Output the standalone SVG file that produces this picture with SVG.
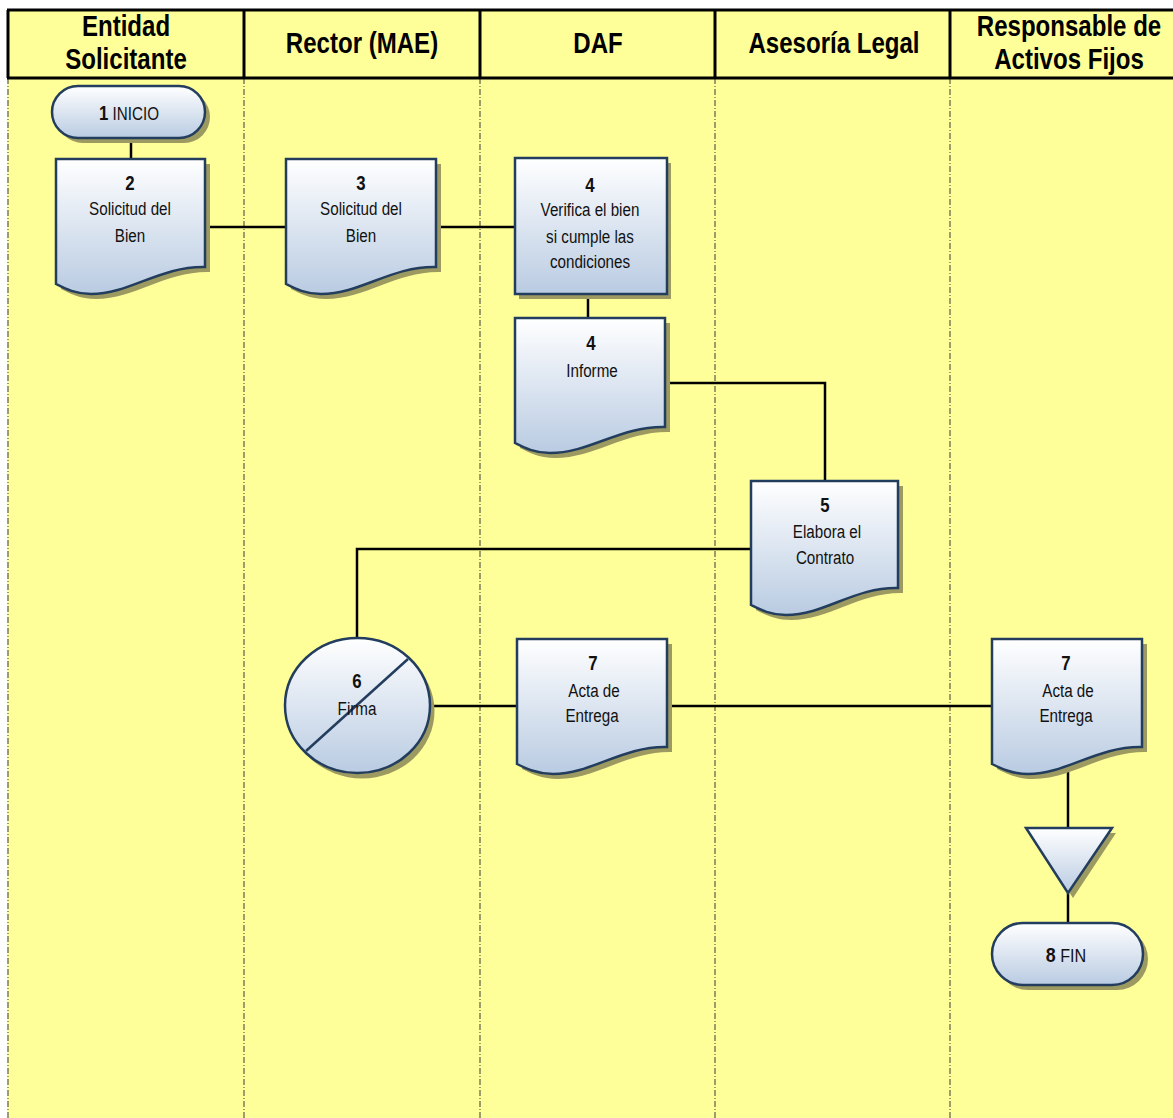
<svg xmlns="http://www.w3.org/2000/svg" width="1173" height="1118" viewBox="0 0 1173 1118">
  <defs>
    <linearGradient id="nodeFill" x1="0" y1="0" x2="0" y2="1">
      <stop offset="0" stop-color="#ffffff"/>
      <stop offset="1" stop-color="#b9cbe2"/>
    </linearGradient>
    <style>
      .lane { stroke: #3a3a3a; stroke-width: 1; stroke-dasharray: 6 2 1 2; fill: none; }
      .hdr { stroke: #000; stroke-width: 3; fill: none; }
      .hdrText { font-family: "Liberation Sans", Arial, sans-serif; font-weight: bold; font-size: 29px; fill: #000; text-anchor: middle; }
      .shape { fill: url(#nodeFill); stroke: #233d5e; stroke-width: 2.5; }
      .shadow { fill: #9c9a60; stroke: none; }
      .lbl { font-family: "Liberation Sans", Arial, sans-serif; font-size: 19px; fill: #111; text-anchor: middle; }
      .num { font-weight: bold; font-size: 21px; }
      .conn { stroke: #000; stroke-width: 2.5; fill: none; }
    </style>
  </defs>

  <!-- page background and swimlane area -->
  <rect x="0" y="0" width="1173" height="1118" fill="#ffffff"/>
  <rect x="7" y="10" width="1166" height="1108" fill="#ffff99"/>

  <!-- lane separators -->
  <g id="lanes">
    <line class="lane" x1="8" y1="78" x2="8" y2="1118"/>
    <line class="lane" x1="244" y1="78" x2="244" y2="1118"/>
    <line class="lane" x1="480" y1="78" x2="480" y2="1118"/>
    <line class="lane" x1="715" y1="78" x2="715" y2="1118"/>
    <line class="lane" x1="950" y1="78" x2="950" y2="1118"/>
  </g>

  <!-- header row (condensed bold captions) -->
  <g id="header">
    <line class="hdr" x1="7" y1="10" x2="1173" y2="10"/>
    <line class="hdr" x1="7" y1="78" x2="1173" y2="78"/>
    <line class="hdr" x1="8" y1="10" x2="8" y2="78"/>
    <line class="hdr" x1="244" y1="10" x2="244" y2="78"/>
    <line class="hdr" x1="480" y1="10" x2="480" y2="78"/>
    <line class="hdr" x1="715" y1="10" x2="715" y2="78"/>
    <line class="hdr" x1="950" y1="10" x2="950" y2="78"/>
    <text class="hdrText" transform="translate(126,36) scale(0.83,1)">Entidad</text>
    <text class="hdrText" transform="translate(126,69) scale(0.83,1)">Solicitante</text>
    <text class="hdrText" transform="translate(362,53) scale(0.83,1)">Rector (MAE)</text>
    <text class="hdrText" transform="translate(598,53) scale(0.83,1)">DAF</text>
    <text class="hdrText" transform="translate(834,53) scale(0.83,1)">Asesoría Legal</text>
    <text class="hdrText" transform="translate(1069,36) scale(0.83,1)">Responsable de</text>
    <text class="hdrText" transform="translate(1069,69) scale(0.83,1)">Activos Fijos</text>
  </g>

  <!-- connectors -->
  <g id="connectors">
    <line class="conn" x1="131" y1="138" x2="131" y2="159"/>
    <line class="conn" x1="206" y1="227" x2="286" y2="227"/>
    <line class="conn" x1="436" y1="227" x2="515" y2="227"/>
    <line class="conn" x1="588" y1="294" x2="588" y2="318"/>
    <polyline class="conn" points="665,383 825,383 825,481"/>
    <polyline class="conn" points="751,549 357,549 357,638"/>
    <line class="conn" x1="430" y1="706" x2="517" y2="706"/>
    <line class="conn" x1="667" y1="706" x2="992" y2="706"/>
    <line class="conn" x1="1068" y1="768" x2="1068" y2="828"/>
    <line class="conn" x1="1068" y1="893" x2="1068" y2="923"/>
  </g>

  <!-- 1 INICIO -->
  <g id="n1">
    <rect class="shadow" x="57" y="91" width="153" height="52" rx="26"/>
    <rect class="shape" x="52" y="86" width="153" height="52" rx="26"/>
    <text class="lbl" transform="translate(129,120) scale(0.8,1)"><tspan class="num">1</tspan> INICIO</text>
  </g>

  <!-- 2 Solicitud del Bien -->
  <g id="n2">
    <path class="shadow" transform="translate(5,5)" d="M56,159 H205 V267 C160,266 130,294 91,294 C75,294 64,288 56,284 Z"/>
    <path class="shape" d="M56,159 H205 V267 C160,266 130,294 91,294 C75,294 64,288 56,284 Z"/>
    <text class="lbl num" transform="translate(130,190) scale(0.8,1)">2</text>
    <text class="lbl" transform="translate(130,215) scale(0.8,1)">Solicitud del</text>
    <text class="lbl" transform="translate(130,242) scale(0.8,1)">Bien</text>
  </g>

  <!-- 3 Solicitud del Bien -->
  <g id="n3">
    <path class="shadow" transform="translate(5,5)" d="M286,159 H436 V267 C391,266 361,294 321,294 C305,294 294,288 286,284 Z"/>
    <path class="shape" d="M286,159 H436 V267 C391,266 361,294 321,294 C305,294 294,288 286,284 Z"/>
    <text class="lbl num" transform="translate(361,190) scale(0.8,1)">3</text>
    <text class="lbl" transform="translate(361,215) scale(0.8,1)">Solicitud del</text>
    <text class="lbl" transform="translate(361,242) scale(0.8,1)">Bien</text>
  </g>

  <!-- 4 Verifica el bien -->
  <g id="n4">
    <rect class="shadow" x="519" y="163" width="152" height="136"/>
    <rect class="shape" x="515" y="158" width="152" height="136"/>
    <text class="lbl num" transform="translate(590,192) scale(0.8,1)">4</text>
    <text class="lbl" transform="translate(590,216) scale(0.8,1)">Verifica el bien</text>
    <text class="lbl" transform="translate(590,243) scale(0.8,1)">si cumple las</text>
    <text class="lbl" transform="translate(590,268) scale(0.8,1)">condiciones</text>
  </g>

  <!-- 4 Informe -->
  <g id="n4b">
    <path class="shadow" transform="translate(5,5)" d="M515,318 H665 V427 C620,426 590,453 550,453 C534,453 523,447 515,443 Z"/>
    <path class="shape" d="M515,318 H665 V427 C620,426 590,453 550,453 C534,453 523,447 515,443 Z"/>
    <text class="lbl num" transform="translate(591,350) scale(0.8,1)">4</text>
    <text class="lbl" transform="translate(592,377) scale(0.8,1)">Informe</text>
  </g>

  <!-- 5 Elabora el Contrato -->
  <g id="n5">
    <path class="shadow" transform="translate(5,5)" d="M751,481 H898 V588 C854,587 825,615 786,615 C770,615 759,609 751,605 Z"/>
    <path class="shape" d="M751,481 H898 V588 C854,587 825,615 786,615 C770,615 759,609 751,605 Z"/>
    <text class="lbl num" transform="translate(825,512) scale(0.8,1)">5</text>
    <text class="lbl" transform="translate(827,538) scale(0.8,1)">Elabora el</text>
    <text class="lbl" transform="translate(825,564) scale(0.8,1)">Contrato</text>
  </g>

  <!-- 6 Firma -->
  <g id="n6">
    <ellipse class="shadow" cx="362" cy="711" rx="72.5" ry="67.5"/>
    <ellipse class="shape" cx="357.5" cy="705.5" rx="72.5" ry="67.5"/>
    <line x1="306" y1="751" x2="408" y2="659" stroke="#233d5e" stroke-width="2.5"/>
    <text class="lbl num" transform="translate(357,688) scale(0.8,1)">6</text>
    <text class="lbl" transform="translate(357,715) scale(0.8,1)">Firma</text>
  </g>

  <!-- 7 Acta de Entrega (DAF) -->
  <g id="n7a">
    <path class="shadow" transform="translate(5,5)" d="M517,639 H667 V747 C622,746 592,774 553,774 C537,774 525,768 517,764 Z"/>
    <path class="shape" d="M517,639 H667 V747 C622,746 592,774 553,774 C537,774 525,768 517,764 Z"/>
    <text class="lbl num" transform="translate(593,670) scale(0.8,1)">7</text>
    <text class="lbl" transform="translate(594,697) scale(0.8,1)">Acta de</text>
    <text class="lbl" transform="translate(592,722) scale(0.8,1)">Entrega</text>
  </g>

  <!-- 7 Acta de Entrega (Activos Fijos) -->
  <g id="n7b">
    <path class="shadow" transform="translate(5,5)" d="M992,639 H1142 V747 C1097,746 1067,774 1028,774 C1012,774 1000,768 992,764 Z"/>
    <path class="shape" d="M992,639 H1142 V747 C1097,746 1067,774 1028,774 C1012,774 1000,768 992,764 Z"/>
    <text class="lbl num" transform="translate(1066,670) scale(0.8,1)">7</text>
    <text class="lbl" transform="translate(1068,697) scale(0.8,1)">Acta de</text>
    <text class="lbl" transform="translate(1066,722) scale(0.8,1)">Entrega</text>
  </g>

  <!-- archive triangle -->
  <g id="n_store">
    <polygon class="shadow" points="1030,833 1116,833 1073,898"/>
    <polygon class="shape" points="1026,828 1112,828 1068,893"/>
  </g>

  <!-- 8 FIN -->
  <g id="n8">
    <rect class="shadow" x="997" y="928" width="151" height="62" rx="31"/>
    <rect class="shape" x="992" y="923" width="151" height="62" rx="31"/>
    <text class="lbl" transform="translate(1066,962) scale(0.85,1)"><tspan class="num">8</tspan>  FIN</text>
  </g>
</svg>
